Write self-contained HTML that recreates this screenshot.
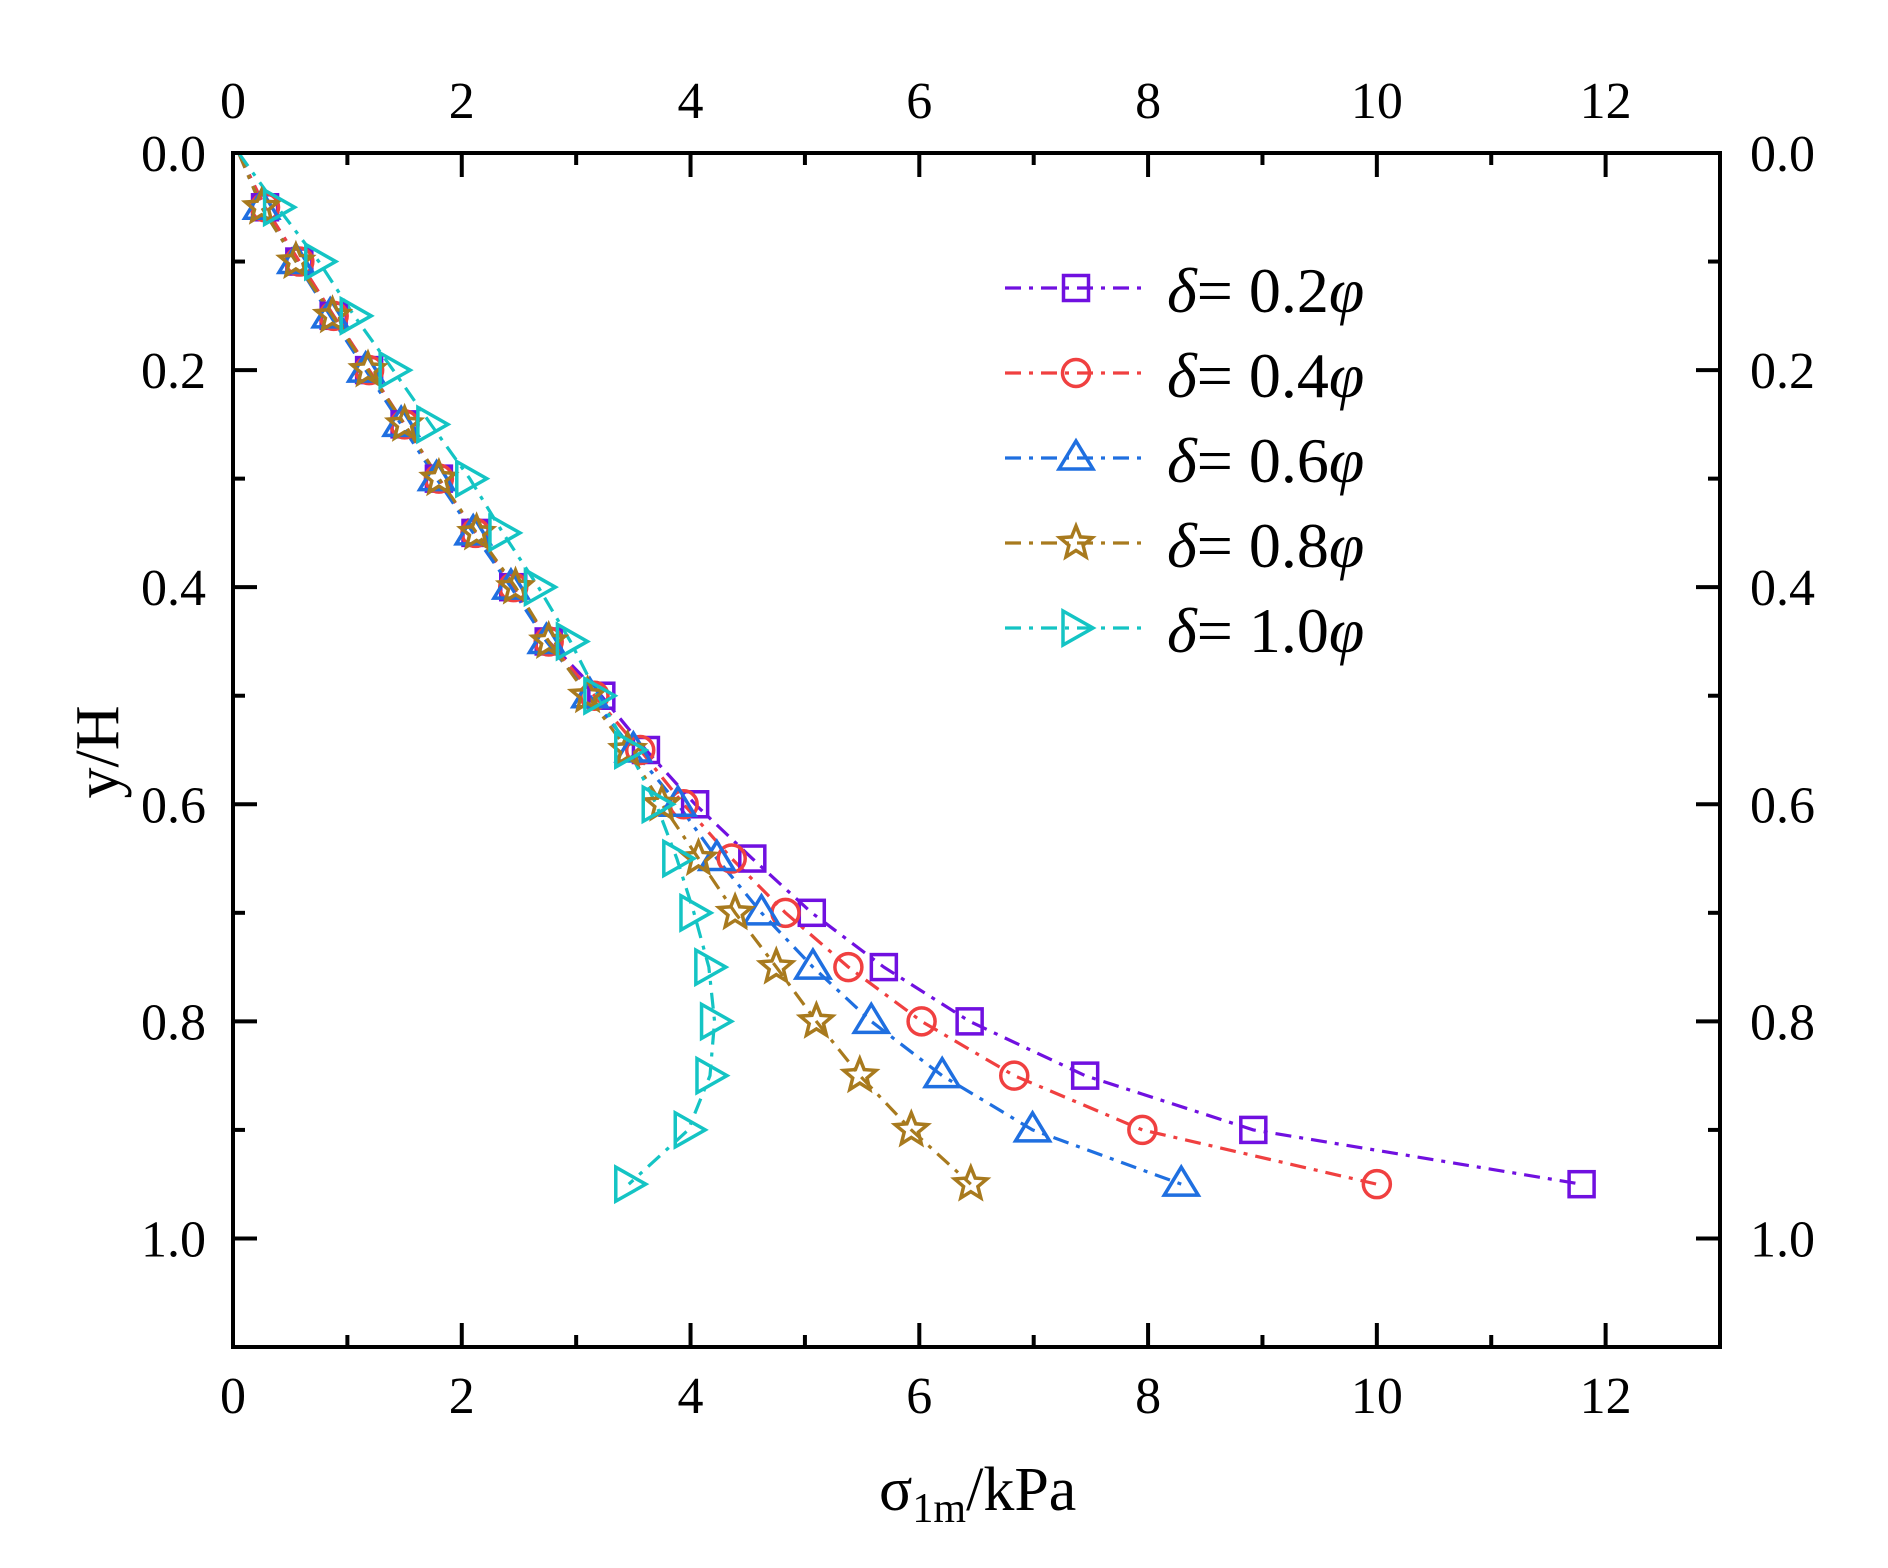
<!DOCTYPE html>
<html><head><meta charset="utf-8"><style>
html,body{margin:0;padding:0;background:#fff;}
svg{display:block;font-family:"Liberation Serif","DejaVu Serif",serif;}
</style></head><body>
<svg id="c" width="1888" height="1568" viewBox="0 0 1888 1568" xmlns="http://www.w3.org/2000/svg">
<rect width="1888" height="1568" fill="#fff"/>
<g id="data"></g>
<g id="axes"></g>
<text x="879" y="1510" font-size="62">σ<tspan font-size="42" dy="12">1m</tspan><tspan dy="-12">/kPa</tspan></text>
<text transform="translate(118,752) rotate(-90)" text-anchor="middle" font-size="62">y/H</text>
<g id="legend"></g>
</svg>
<script>
const NS="http://www.w3.org/2000/svg";
const X0=233,X1=1720,Y0=153,Y1=1347;
const sx=v=>X0+v*(X1-X0)/13, sy=v=>Y0+v*(Y1-Y0)/1.1;
function el(t,a,p){const e=document.createElementNS(NS,t);for(const k in a)e.setAttribute(k,a[k]);(p||document.getElementById('data')).appendChild(e);return e;}
const ax=document.getElementById('axes');
el('rect',{x:X0,y:Y0,width:X1-X0,height:Y1-Y0,fill:'none',stroke:'#000','stroke-width':4},ax);
for(let i=0;i<=13;i++){const x=sx(i),L=i%2==0?24:12;
 el('line',{x1:x,y1:Y1,x2:x,y2:Y1-L,stroke:'#000','stroke-width':4},ax);
 el('line',{x1:x,y1:Y0,x2:x,y2:Y0+L,stroke:'#000','stroke-width':4},ax);
 if(i%2==0&&i<=12){const t=el('text',{x:x,y:1413,'text-anchor':'middle','font-size':52},ax);t.textContent=i;
  const t2=el('text',{x:x,y:118,'text-anchor':'middle','font-size':52},ax);t2.textContent=i;}}
for(let i=0;i<=11;i++){const v=i/10,y=sy(v),L=i%2==0?24:12;
 el('line',{x1:X0,y1:y,x2:X0+L,y2:y,stroke:'#000','stroke-width':4},ax);
 el('line',{x1:X1,y1:y,x2:X1-L,y2:y,stroke:'#000','stroke-width':4},ax);
 if(i%2==0&&i<=10){const s=v.toFixed(1);
  const t=el('text',{x:206,y:y+18,'text-anchor':'end','font-size':52},ax);t.textContent=s;
  const t2=el('text',{x:1750,y:y+18,'font-size':52},ax);t2.textContent=s;}}
const ys=[];for(let i=0;i<20;i++)ys.push(i*0.05);
const early=[0.05,0.28,0.58,0.88,1.19,1.5,1.8,2.12,2.45,2.76];
const S=[
 {c:'#7010e0',m:'sq',x:early.concat([3.22,3.61,4.04,4.54,5.06,5.69,6.44,7.45,8.92,11.79])},
 {c:'#f04040',m:'ci',x:early.concat([3.16,3.56,3.94,4.36,4.83,5.38,6.02,6.83,7.95,10.0])},
 {c:'#1f6fe0',m:'tr',x:[0.05,0.25,0.55,0.85,1.16,1.47,1.78,2.1,2.43,2.74,3.12,3.5,3.89,4.23,4.62,5.07,5.58,6.2,6.99,8.29]},
 {c:'#a87a1e',m:'st',x:[0.05,0.25,0.55,0.87,1.18,1.5,1.8,2.13,2.47,2.76,3.1,3.45,3.75,4.07,4.39,4.75,5.1,5.48,5.93,6.45]},
 {c:'#14c4c4',m:'rt',x:[0.05,0.39,0.75,1.06,1.4,1.73,2.07,2.36,2.67,2.95,3.19,3.46,3.7,3.88,4.03,4.16,4.21,4.17,3.98,3.46]}
];
function marker(m,x,y,c,p){const a={fill:'none',stroke:c,'stroke-width':3.5};
 if(m=='sq')el('rect',Object.assign({x:x-12.5,y:y-12.5,width:25,height:25},a),p);
 else if(m=='ci')el('circle',Object.assign({cx:x,cy:y,r:13.5},a),p);
 else if(m=='tr')el('polygon',Object.assign({points:`${x},${y-17} ${x+17},${y+11} ${x-17},${y+11}`},a),p);
 else if(m=='rt')el('polygon',Object.assign({points:`${x-13},${y-17} ${x+17},${y} ${x-13},${y+17}`},a),p);
 else{let pts=[];for(let k=0;k<10;k++){const r=k%2?7.5:17,an=-Math.PI/2+k*Math.PI/5;pts.push((x+r*Math.cos(an)).toFixed(1)+','+(y+r*Math.sin(an)).toFixed(1));}
  el('polygon',Object.assign({points:pts.join(' ')},a),p);}}
const dash='16 8 4 8';
S.forEach(s=>{const pts=s.x.map((v,i)=>sx(v)+','+sy(ys[i])).join(' ');
 el('polyline',{points:pts,fill:'none',stroke:s.c,'stroke-width':3.2,'stroke-dasharray':dash});});
S.forEach(s=>{s.x.forEach((v,i)=>{if(i>0)marker(s.m,sx(v),sy(ys[i]),s.c);});});
const lg=document.getElementById('legend');
['0.2','0.4','0.6','0.8','1.0'].forEach((lab,i)=>{const y=288+i*85,s=S[i];
 el('line',{x1:1005,y1:y,x2:1144,y2:y,stroke:s.c,'stroke-width':3.2,'stroke-dasharray':dash},lg);
 marker(s.m,1076,y,s.c,lg);
 const t=el('text',{x:1167,y:y+24,'font-size':64},lg);
 t.innerHTML='<tspan font-style="italic">δ</tspan>= '+lab+'<tspan font-style="italic">φ</tspan>';});
</script>
</body></html>
